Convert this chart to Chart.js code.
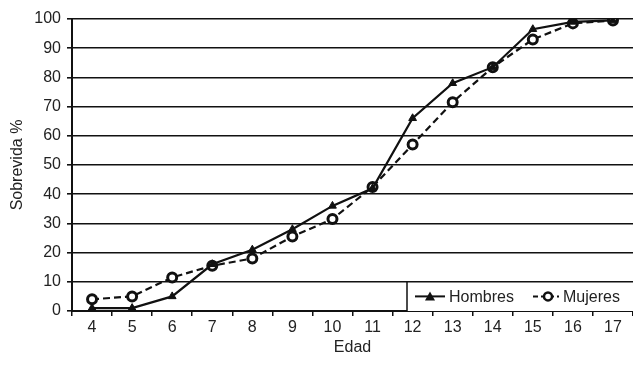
<!DOCTYPE html>
<html>
<head>
<meta charset="utf-8">
<script src="https://cdn.jsdelivr.net/npm/chart.js@4/dist/chart.umd.min.js"></script>
<style>
  html, body { margin: 0; padding: 0; background: #fff; }
  #wrap { width: 633px; height: 365px; }
</style>
</head>
<body>
<div id="wrap"><canvas id="myChart" width="633" height="365"></canvas></div>
<script>
// edades y porcentajes de sobrevida
var edades = ['4', '5', '6', '7', '8', '9', '10', '11', '12', '13', '14', '15', '16', '17'];
var hombres = [1, 1, 5, 16, 21, 28, 36, 42, 66, 78, 83.5, 96.5, 99, 99.5];
var mujeres = [4, 5, 11.5, 15.5, 18, 25.5, 31.5, 42.5, 57, 71.5, 83.5, 93, 98.5, 99.5];
var yTicks = [0, 10, 20, 30, 40, 50, 60, 70, 80, 90, 100];

var fontFamily = '"Liberation Sans", Arial, sans-serif';

// legend drawn inside the plot, bottom right, like the original
var boxLegend = {
    id: 'boxLegend',
    afterDraw: function (chart) {
        var c = chart.ctx;
        var area = chart.chartArea;
        var top = chart.scales.y.getPixelForValue(10);
        var left = area.right - 226;
        c.save();
        c.fillStyle = '#fff';
        c.fillRect(left, top, area.right - left, area.bottom - top);
        c.strokeStyle = '#111';
        c.lineWidth = 1.5;
        c.beginPath();
        c.moveTo(left, area.bottom);
        c.lineTo(left, top);
        c.lineTo(area.right, top);
        c.stroke();

        var cy = (top + area.bottom) / 2;
        c.lineWidth = 2;
        // Hombres
        c.setLineDash([]);
        c.beginPath();
        c.moveTo(left + 8, cy);
        c.lineTo(left + 38, cy);
        c.stroke();
        c.fillStyle = '#111';
        c.beginPath();
        c.moveTo(left + 23, cy - 5);
        c.lineTo(left + 28, cy + 4);
        c.lineTo(left + 18, cy + 4);
        c.closePath();
        c.fill();
        // Mujeres
        c.setLineDash([5, 3]);
        c.beginPath();
        c.moveTo(left + 126, cy);
        c.lineTo(left + 152, cy);
        c.stroke();
        c.setLineDash([]);
        c.lineWidth = 2.5;
        c.beginPath();
        c.arc(left + 141, cy, 4, 0, Math.PI * 2);
        c.fillStyle = '#fff';
        c.fill();
        c.stroke();

        c.fillStyle = '#222';
        c.font = '16px ' + fontFamily;
        c.textBaseline = 'middle';
        c.textAlign = 'left';
        c.fillText('Hombres', left + 42, cy + 1);
        c.fillText('Mujeres', left + 156, cy + 1);
        c.restore();
    }
};

var ctx = document.getElementById('myChart').getContext('2d');
var config = {
    type: 'line',
    data: {
        labels: edades,
        datasets: [
            {
                label: 'Hombres',
                data: hombres,
                borderColor: '#111',
                backgroundColor: '#111',
                borderWidth: 2.2,
                pointStyle: 'triangle',
                pointRadius: 4.5,
                pointBorderWidth: 1,
                tension: 0
            },
            {
                label: 'Mujeres',
                data: mujeres,
                borderColor: '#111',
                backgroundColor: '#fff',
                borderWidth: 2.2,
                borderDash: [7, 4],
                pointStyle: 'circle',
                pointRadius: 4.5,
                pointBorderWidth: 3,
                tension: 0
            }
        ]
    },
    options: {
        responsive: false,
        animation: false,
        layout: { autoPadding: false, padding: { top: 19, right: 0, left: 0, bottom: 0 } },
        plugins: {
            legend: { display: false },
            tooltip: { enabled: false }
        },
        scales: {
            x: {
                type: 'category',
                offset: true,
                grid: {
                    offset: true,
                    drawOnChartArea: false,
                    drawTicks: true,
                    tickLength: 5,
                    color: '#111',
                    lineWidth: 1.5
                },
                border: { color: '#111', width: 2 },
                ticks: {
                    color: '#222',
                    font: { family: fontFamily, size: 16 },
                    padding: 2,
                    maxRotation: 0
                },
                title: {
                    display: true,
                    text: 'Edad',
                    color: '#222',
                    font: { family: fontFamily, size: 16 },
                    padding: { top: 2, bottom: 8 }
                },
                afterFit: function (s) {
                    s.height = 54;
                    s.paddingRight = 0;
                    s.paddingLeft = 0;
                }
            },
            y: {
                min: 0,
                max: 100,
                afterBuildTicks: function (s) {
                    s.ticks = yTicks.map(function (v) { return { value: v }; });
                },
                grid: {
                    color: '#111',
                    lineWidth: 1.6,
                    drawTicks: true,
                    tickLength: 5
                },
                border: { color: '#111', width: 2 },
                ticks: {
                    color: '#222',
                    font: { family: fontFamily, size: 16 },
                    padding: 6
                },
                title: {
                    display: true,
                    text: 'Sobrevida %',
                    color: '#222',
                    font: { family: fontFamily, size: 16 },
                    padding: { top: 8, bottom: 2 }
                },
                afterFit: function (s) { s.width = 72; }
            }
        }
    },
    plugins: [boxLegend]
};

var myChart = new Chart(ctx, config);
</script>
</body>
</html>
